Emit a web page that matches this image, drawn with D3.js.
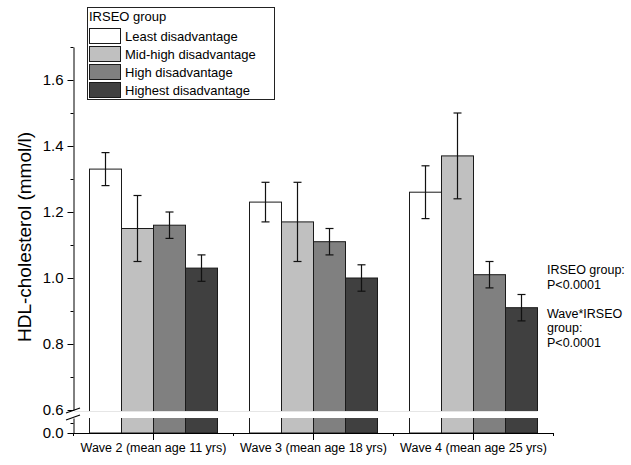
<!DOCTYPE html>
<html>

<head>
    <meta charset="utf-8">
    <title> HDL-cholesterol by IRSEO group </title>
    <!-- Load d3.js -->
    <script src="https://d3js.org/d3.v7.min.js"></script>
    <style>
        body { margin: 0; background: #fff; }
        text { font-family: "Liberation Sans", Arial, sans-serif; fill: #000; }
    </style>
</head>

<body>
    <div id="my_dataviz"></div>
    <script>

        // data
        var waves = ["Wave 2 (mean age 11 yrs)", "Wave 3 (mean age 18 yrs)", "Wave 4 (mean age 25 yrs)"];
        var groups = ["Least disadvantage", "Mid-high disadvantage", "High disadvantage", "Highest disadvantage"];

        var leastMean = [1.33, 1.23, 1.26];
        var midHighMean = [1.15, 1.17, 1.37];
        var highMean = [1.16, 1.11, 1.01];
        var highestMean = [1.03, 1.00, 0.91];

        var leastLow = [1.28, 1.17, 1.18];
        var leastHigh = [1.38, 1.29, 1.34];
        var midHighLow = [1.05, 1.05, 1.24];
        var midHighHigh = [1.25, 1.29, 1.50];
        var highLow = [1.12, 1.07, 0.97];
        var highHigh = [1.20, 1.15, 1.05];
        var highestLow = [0.99, 0.96, 0.87];
        var highestHigh = [1.07, 1.04, 0.95];

        var yTicks = [0.6, 0.8, 1.0, 1.2, 1.4, 1.6];
        var yMinorTicks = [0.7, 0.9, 1.1, 1.3, 1.5, 1.7];
        var pLines = ["IRSEO group:", "P<0.0001", "", "Wave*IRSEO", "group:", "P<0.0001"];

        // build rows for drawing
        var meansByGroup = [leastMean, midHighMean, highMean, highestMean];
        var lowsByGroup = [leastLow, midHighLow, highLow, highestLow];
        var highsByGroup = [leastHigh, midHighHigh, highHigh, highestHigh];
        var data = [];
        waves.forEach(function (w, i) {
            groups.forEach(function (g, j) {
                data.push({ wave: w, group: g, mean: meansByGroup[j][i], low: lowsByGroup[j][i], high: highsByGroup[j][i] });
            });
        });

        var width = 631, height = 465;
        var svg = d3.select("#my_dataviz")
            .append("svg")
            .attr("width", width)
            .attr("height", height);

        // scales
        var x = d3.scaleBand().domain(waves).range([73.5, 553.5]);
        var xSub = d3.scaleBand().domain(groups).range([0, x.bandwidth()]).paddingInner(0).paddingOuter(0.5);
        var y = d3.scaleLinear().domain([0.6, 1.7]).range([410, 47]);
        var yLow = d3.scaleLinear().domain([0, 0.15]).range([433, 418]);
        var color = d3.scaleOrdinal().domain(groups).range(["#ffffff", "#c0c0c0", "#808080", "#404040"]);
        var baseY = yLow(0);

        // bars
        svg.selectAll("rect.bar")
            .data(data)
            .enter()
            .append("rect")
            .attr("class", "bar")
            .attr("x", function (d) { return x(d.wave) + xSub(d.group); })
            .attr("y", function (d) { return y(d.mean); })
            .attr("width", xSub.bandwidth())
            .attr("height", function (d) { return baseY - y(d.mean); })
            .attr("fill", function (d) { return color(d.group); })
            .attr("stroke", "#1a1a1a")
            .attr("stroke-width", 1);

        // axis break stripe across the bars
        svg.append("rect")
            .attr("x", 74.5)
            .attr("y", y(0.6) + 1)
            .attr("width", 478)
            .attr("height", yLow(0.15) - y(0.6) - 1)
            .attr("fill", "#fff");
        svg.append("line")
            .attr("x1", 74.5).attr("x2", x(waves[2]) + xSub(groups[3]) + xSub.bandwidth())
            .attr("y1", y(0.6) + 1.5).attr("y2", y(0.6) + 1.5)
            .attr("stroke", "#e6e6e6");

        // error bars
        var eb = svg.selectAll("g.err")
            .data(data)
            .enter()
            .append("g")
            .attr("class", "err")
            .attr("stroke", "#111")
            .attr("stroke-width", 1.2);
        function cx(d) { return x(d.wave) + xSub(d.group) + xSub.bandwidth() / 2; }
        eb.append("line")
            .attr("x1", cx).attr("x2", cx)
            .attr("y1", function (d) { return y(d.low); })
            .attr("y2", function (d) { return y(d.high); });
        eb.append("line")
            .attr("x1", function (d) { return cx(d) - 4; }).attr("x2", function (d) { return cx(d) + 4; })
            .attr("y1", function (d) { return y(d.low); }).attr("y2", function (d) { return y(d.low); });
        eb.append("line")
            .attr("x1", function (d) { return cx(d) - 4; }).attr("x2", function (d) { return cx(d) + 4; })
            .attr("y1", function (d) { return y(d.high); }).attr("y2", function (d) { return y(d.high); });

        // Y axis, upper part
        var yAxisG = svg.append("g").attr("transform", "translate(73.5,0)");
        yAxisG.append("g")
            .call(d3.axisLeft(y).tickValues(yTicks).tickSize(6).tickSizeOuter(0).tickPadding(4).tickFormat(d3.format(".1f")))
            .call(function (g) { g.selectAll("text").style("font-size", "15px"); });
        yAxisG.append("g")
            .call(d3.axisLeft(y).tickValues(yMinorTicks).tickSize(3).tickSizeOuter(0).tickFormat(""))
            .call(function (g) { g.select(".domain").remove(); });

        // Y axis, lower part
        yAxisG.append("g")
            .call(d3.axisLeft(yLow).tickValues([0]).tickSize(6).tickSizeOuter(0).tickPadding(4).tickFormat(d3.format(".1f")))
            .call(function (g) { g.selectAll("text").style("font-size", "15px"); });
        yAxisG.append("g")
            .call(d3.axisLeft(yLow).tickValues([0.1]).tickSize(3).tickSizeOuter(0).tickFormat(""))
            .call(function (g) { g.select(".domain").remove(); });

        // break marks
        [0, 7].forEach(function (off) {
            svg.append("line")
                .attr("x1", 66).attr("y1", y(0.6) + 3 + off)
                .attr("x2", 80).attr("y2", y(0.6) - 2 + off)
                .attr("stroke", "#000").attr("stroke-width", 1.3);
        });

        // X axis
        var xAxisG = svg.append("g").attr("transform", "translate(0," + baseY + ")");
        xAxisG.call(d3.axisBottom(x).tickSize(7).tickSizeOuter(0).tickPadding(3))
            .call(function (g) { g.selectAll("text").style("font-size", "12.5px"); });
        xAxisG.selectAll("line.minor")
            .data([0].concat(waves.map(function (w) { return x(w) + x.bandwidth(); })))
            .enter()
            .append("line")
            .attr("class", "minor")
            .attr("x1", function (d) { return d === 0 ? 73.5 : d; })
            .attr("x2", function (d) { return d === 0 ? 73.5 : d; })
            .attr("y1", 0).attr("y2", 3)
            .attr("stroke", "#000");

        // Y axis title
        svg.append("text")
            .attr("transform", "translate(31,237) rotate(-90)")
            .attr("text-anchor", "middle")
            .style("font-size", "19px")
            .text("HDL-cholesterol (mmol/l)");

        // legend
        var legend = svg.append("g");
        legend.append("rect")
            .attr("x", 87.5).attr("y", 7.5)
            .attr("width", 187).attr("height", 92)
            .attr("fill", "#fff").attr("stroke", "#222");
        legend.append("text")
            .attr("x", 89).attr("y", 21)
            .style("font-size", "13px")
            .text("IRSEO group");
        var rows = legend.selectAll("g.row")
            .data(groups)
            .enter()
            .append("g")
            .attr("class", "row")
            .attr("transform", function (d, i) { return "translate(0," + (28 + i * 18) + ")"; });
        rows.append("rect")
            .attr("x", 89.5).attr("y", 0.5)
            .attr("width", 31).attr("height", 15)
            .attr("fill", function (d) { return color(d); })
            .attr("stroke", "#1a1a1a");
        rows.append("text")
            .attr("x", 125).attr("y", 12.5)
            .style("font-size", "13px")
            .text(function (d) { return d; });

        // p-value note
        svg.append("g")
            .selectAll("text")
            .data(pLines)
            .enter()
            .append("text")
            .attr("x", 547)
            .attr("y", function (d, i) { return 274 + i * 14.5; })
            .style("font-size", "12.5px")
            .text(function (d) { return d; });

    </script>
</body>

</html>
